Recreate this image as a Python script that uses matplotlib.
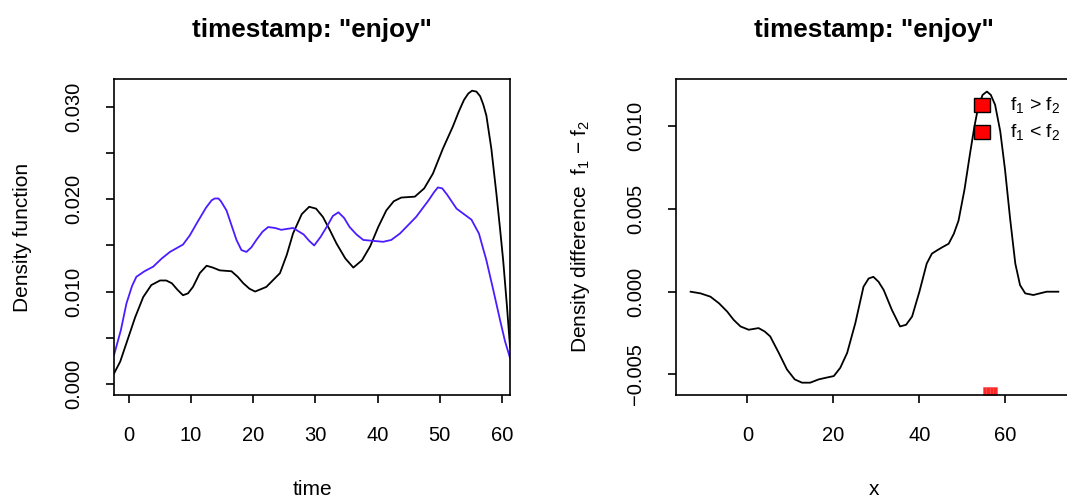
import numpy as np
import matplotlib.pyplot as plt
from matplotlib.patches import Rectangle

plt.rcParams['font.family'] = ['Liberation Sans', 'DejaVu Sans']
plt.rcParams['mathtext.fontset'] = 'custom'
plt.rcParams['mathtext.rm'] = 'Liberation Sans'
plt.rcParams['mathtext.it'] = 'Liberation Sans'

# --- densite "enjoy" : courbe noire (f1) et bleue (f2) ---
t_f1 = [-2.4, -1.4, -0.4, 1.0, 2.3, 3.6, 5.0, 6.0, 6.9, 7.8, 8.7, 9.5, 10.3, 11.4, 12.5,
        13.5, 14.6, 16.5, 17.5, 18.4, 19.4, 20.3, 22.1, 24.3, 25.4, 26.4, 27.8, 29.0,
        30.1, 31.2, 32.3, 33.4, 34.8, 36.1, 37.5, 38.8, 40.1, 41.4, 42.6, 43.8, 46.0,
        47.5, 48.9, 50.5, 52.1, 53.1, 53.9, 54.6, 55.2, 55.9, 56.5, 57.0, 57.5, 58.3,
        59.1, 59.7, 60.2, 60.8, 61.3]
d_f1 = [0.0011, 0.0024, 0.0044, 0.0072, 0.0094, 0.0107, 0.0112, 0.0112, 0.0109, 0.0102,
        0.0096, 0.0098, 0.0105, 0.0120, 0.0128, 0.0126, 0.0123, 0.0122, 0.0116, 0.0109,
        0.0103, 0.0100, 0.0105, 0.0120, 0.0140, 0.0163, 0.0184, 0.0192, 0.0190, 0.0181,
        0.0167, 0.0152, 0.0136, 0.0126, 0.0134, 0.0149, 0.0170, 0.0188, 0.0198, 0.0202,
        0.0203, 0.0212, 0.0228, 0.0255, 0.0279, 0.0296, 0.0308, 0.0315, 0.0318, 0.0317,
        0.0312, 0.0303, 0.0291, 0.0255, 0.0207, 0.0168, 0.0134, 0.0085, 0.0040]

t_f2 = [-2.4, -1.3, -0.4, 0.5, 1.2, 2.5, 3.9, 5.3, 6.6, 8.7, 9.8, 10.9, 12.4, 13.3, 13.8,
        14.4, 14.8, 15.7, 16.5, 17.3, 18.1, 18.9, 19.7, 20.5, 21.5, 22.4, 23.5, 24.5,
        26.4, 28.1, 29.0, 29.8, 30.8, 31.8, 32.8, 33.7, 34.6, 35.5, 36.6, 37.7, 39.3,
        40.9, 42.2, 43.6, 46.2, 48.2, 49.1, 49.7, 50.4, 51.2, 52.7, 55.1, 56.3, 57.5,
        58.6, 59.7, 60.5, 61.3]
d_f2 = [0.0031, 0.0058, 0.0087, 0.0106, 0.0116, 0.0122, 0.0127, 0.0136, 0.0143, 0.0151,
        0.0161, 0.0174, 0.0191, 0.0199, 0.0201, 0.0201, 0.0198, 0.0188, 0.0172, 0.0156,
        0.0145, 0.0143, 0.0148, 0.0156, 0.0165, 0.0170, 0.0169, 0.0167, 0.0169, 0.0162,
        0.0155, 0.0150, 0.0159, 0.0170, 0.0182, 0.0186, 0.0180, 0.0170, 0.0162, 0.0156,
        0.0155, 0.0154, 0.0156, 0.0163, 0.0181, 0.0199, 0.0208, 0.0213, 0.0212, 0.0205,
        0.0190, 0.0178, 0.0163, 0.0134, 0.0102, 0.0069, 0.0046, 0.0028]

# --- difference f1 - f2 ---
x_diff = [-13.2, -10.9, -8.6, -6.6, -4.7, -3.2, -1.6, 0.3, 2.6, 4.0, 5.3, 7.3, 9.2, 11.0,
          12.7, 14.6, 16.6, 18.3, 20.1, 21.6, 23.2, 25.1, 27.0, 28.2, 29.3, 30.5, 31.7,
          33.6, 35.5, 36.9, 38.3, 40.0, 41.7, 42.9, 44.1, 45.4, 46.8, 48.0, 49.1, 50.5,
          51.8, 52.8, 53.7, 54.7, 55.7, 56.6, 57.6, 58.8, 59.9, 61.1, 62.3, 63.4, 64.6,
          66.5, 68.0, 69.6, 72.3]
y_diff = [0.0000, -0.0001, -0.0003, -0.0007, -0.0012, -0.0017, -0.0021, -0.0023, -0.0022,
          -0.0024, -0.0027, -0.0037, -0.0047, -0.0053, -0.0055, -0.0055, -0.0053, -0.0052,
          -0.0051, -0.0046, -0.0037, -0.0019, 0.0003, 0.0008, 0.0009, 0.0006, 0.0001,
          -0.0011, -0.0021, -0.0020, -0.0015, 0.0000, 0.0017, 0.0023, 0.0025, 0.0027,
          0.0029, 0.0035, 0.0043, 0.0062, 0.0084, 0.0100, 0.0112, 0.0119, 0.0121, 0.0119,
          0.0113, 0.0097, 0.0074, 0.0044, 0.0017, 0.0004, -0.0001, -0.0002, -0.0001,
          0.0000, 0.0000]

# zones significatives (marques rouges en bas)
sig_x = [54.8, 55.6, 56.4, 57.2]
sig_w = 0.8

# legende
leg_labels = ['f$_1$ > f$_2$', 'f$_1$ < f$_2$']
leg_y = [0.01128, 0.00966]

W, H = 1067, 500
fig = plt.figure(figsize=(W / 100, H / 100), dpi=100)

def r_style(ax):
    for s in ax.spines.values():
        s.set_linewidth(1.2)
    ax.tick_params(direction='out', length=5.5, width=1.2, labelsize=14.5, pad=17)
    for lab in ax.get_yticklabels():
        lab.set_rotation(90)
        lab.set_va('center')

# --- panneau gauche ---
ax1 = fig.add_axes([114 / W, (H - 395) / H, 396 / W, 316 / H])
ax1.plot(t_f1, d_f1, color='black', lw=1.3)
ax1.plot(t_f2, d_f2, color='#4B1CFF', lw=1.3)
ax1.set_xlim(-2.4, 61.3)
ax1.set_ylim(-0.00123, 0.03307)
ax1.set_xticks(np.arange(0, 61, 10))
ax1.set_yticks(np.arange(0, 0.0301, 0.005))
ax1.set_yticklabels(['0.000', '', '0.010', '', '0.020', '', '0.030'])
ax1.set_title('timestamp: "enjoy"', fontsize=18.8, fontweight='bold', pad=30)
ax1.set_xlabel('time', fontsize=15)
ax1.set_ylabel('Density function', fontsize=15)
ax1.xaxis.set_label_coords(0.5, -0.30)
ax1.xaxis.label.set_va('center')
ax1.yaxis.set_label_coords(-0.232, 0.5)
ax1.yaxis.label.set_va('center')
r_style(ax1)

# --- panneau droit ---
ax2 = fig.add_axes([676 / W, (H - 395) / H, 396.5 / W, 316 / H])
ax2.plot(x_diff, y_diff, color='black', lw=1.3)
ax2.set_xlim(-16.6, 75.6)
ax2.set_ylim(-0.006245, 0.01286)
y0 = ax2.get_ylim()[0]
for sx in sig_x:
    ax2.add_patch(Rectangle((sx, y0), sig_w, 0.0005, facecolor='red', edgecolor='#ff5050',
                            lw=0.5, alpha=0.85, clip_on=False))
ax2.set_xticks([0, 20, 40, 60])
ax2.set_yticks([-0.005, 0.0, 0.005, 0.010])
ax2.set_yticklabels(['\u22120.005', '0.000', '0.005', '0.010'])
ax2.set_title('timestamp: "enjoy"', fontsize=18.8, fontweight='bold', pad=30)
ax2.set_xlabel('x', fontsize=15)
ax2.set_ylabel('Density difference  f$_1$ $-$ f$_2$', fontsize=15)
ax2.xaxis.set_label_coords(0.5, -0.30)
ax2.xaxis.label.set_va('center')
ax2.yaxis.set_label_coords(-0.242, 0.5)
ax2.yaxis.label.set_va('center')
r_style(ax2)

# legende : rectangles rouges + textes
bw, bh = 3.7, 0.00085
for ly, lab in zip(leg_y, leg_labels):
    ax2.add_patch(Rectangle((54.6 - bw / 2, ly - bh / 2), bw, bh, facecolor='red',
                            edgecolor='black', lw=1.0, zorder=3))
    ax2.text(61.1, ly, lab, fontsize=14, va='center', ha='left')

fig.savefig('out.png', dpi=100)
